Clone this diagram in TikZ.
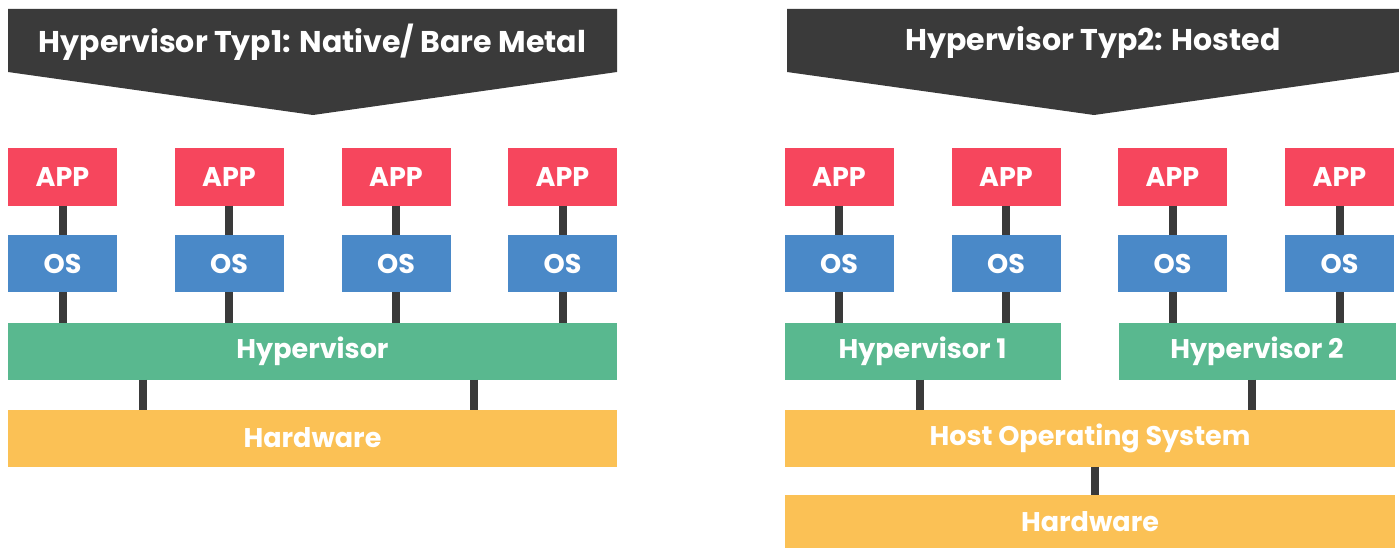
\documentclass[tikz,border=0pt]{standalone}
\usepackage{fontspec}
\setmainfont{Poppins}
\definecolor{dark}{HTML}{3A3A3A}
\definecolor{appred}{HTML}{F6465D}
\definecolor{osblue}{HTML}{4A89C8}
\definecolor{hvgreen}{HTML}{59B88F}
\definecolor{hwyellow}{HTML}{FBC155}
\begin{document}
\begin{tikzpicture}[x=1pt,y=-1pt,
  box/.style={inner sep=0pt,outer sep=0pt,text=white,font=\bfseries\fontsize{27}{30}\selectfont,minimum height=57pt},
  appbox/.style={box,fill=appred,minimum width=109pt},
  osbox/.style={box,fill=osblue,minimum width=109pt},
  hvbox/.style={box,fill=hvgreen},
  hwbox/.style={box,fill=hwyellow},
  conn/.style={draw=dark,line width=8pt},
  banner/.style={fill=dark},
  bannertext/.style={text=white,font=\bfseries\fontsize{30}{34}\selectfont,inner sep=0pt}]
\useasboundingbox (0,0) rectangle (1399,548);
% banners
\fill[banner] (8,9) -- (617,9) -- (617,72) -- (313,115) -- (8,72) -- cycle;
\node[bannertext] (t1) at (312.5,42) {Hypervisor Typ1: Native/ Bare Metal};
\fill[banner] (787,9) -- (1399,9) -- (1399,72) -- (1094,115) -- (787,72) -- cycle;
\node[bannertext] (t2) at (1093,42) {Hypervisor Typ2: Hosted};
% left side
\foreach \i/\x in {1/62.5,2/229,3/396,4/562.5}{
  \node[appbox] (la\i) at (\x,177) {APP};
  \node[osbox] (lo\i) at (\x,263.5) {OS};
}
\node[hvbox,minimum width=609pt] (lhv) at (312.5,351) {Hypervisor};
\node[hwbox,minimum width=609pt] (lhw) at (312.5,438) {Hardware};
\foreach \i in {1,...,4}{
  \draw[conn] (la\i.south) -- (lo\i.north);
  \draw[conn] (lo\i.south) -- (lo\i.south |- lhv.north);
}
\coordinate (lc1) at (143,0);
\coordinate (lc2) at (474,0);
\draw[conn] (lhv.south -| lc1) -- (lhw.north -| lc1);
\draw[conn] (lhv.south -| lc2) -- (lhw.north -| lc2);
% right side
\foreach \i/\x in {1/839,2/1006,3/1172.5,4/1339.5}{
  \node[appbox] (ra\i) at (\x,177) {APP};
  \node[osbox] (ro\i) at (\x,263.5) {OS};
  \draw[conn] (ra\i.south) -- (ro\i.north);
}
\node[hvbox,minimum width=276pt] (rhv1) at (922.5,351) {Hypervisor 1};
\node[hvbox,minimum width=277pt] (rhv2) at (1257,351) {Hypervisor 2};
\draw[conn] (ro1.south) -- (ro1.south |- rhv1.north);
\draw[conn] (ro2.south) -- (ro2.south |- rhv1.north);
\draw[conn] (ro3.south) -- (ro3.south |- rhv2.north);
\draw[conn] (ro4.south) -- (ro4.south |- rhv2.north);
\node[hwbox,minimum width=610pt] (rhost) at (1090,438) {Host Operating System};
\node[hwbox,minimum width=610pt,minimum height=53pt] (rhw) at (1090,521.5) {Hardware};
\coordinate (rc1) at (920,0);
\coordinate (rc2) at (1252,0);
\coordinate (rc3) at (1095,0);
\draw[conn] (rhv1.south -| rc1) -- (rhost.north -| rc1);
\draw[conn] (rhv2.south -| rc2) -- (rhost.north -| rc2);
\draw[conn] (rhost.south -| rc3) -- (rhw.north -| rc3);
\end{tikzpicture}
\end{document}
